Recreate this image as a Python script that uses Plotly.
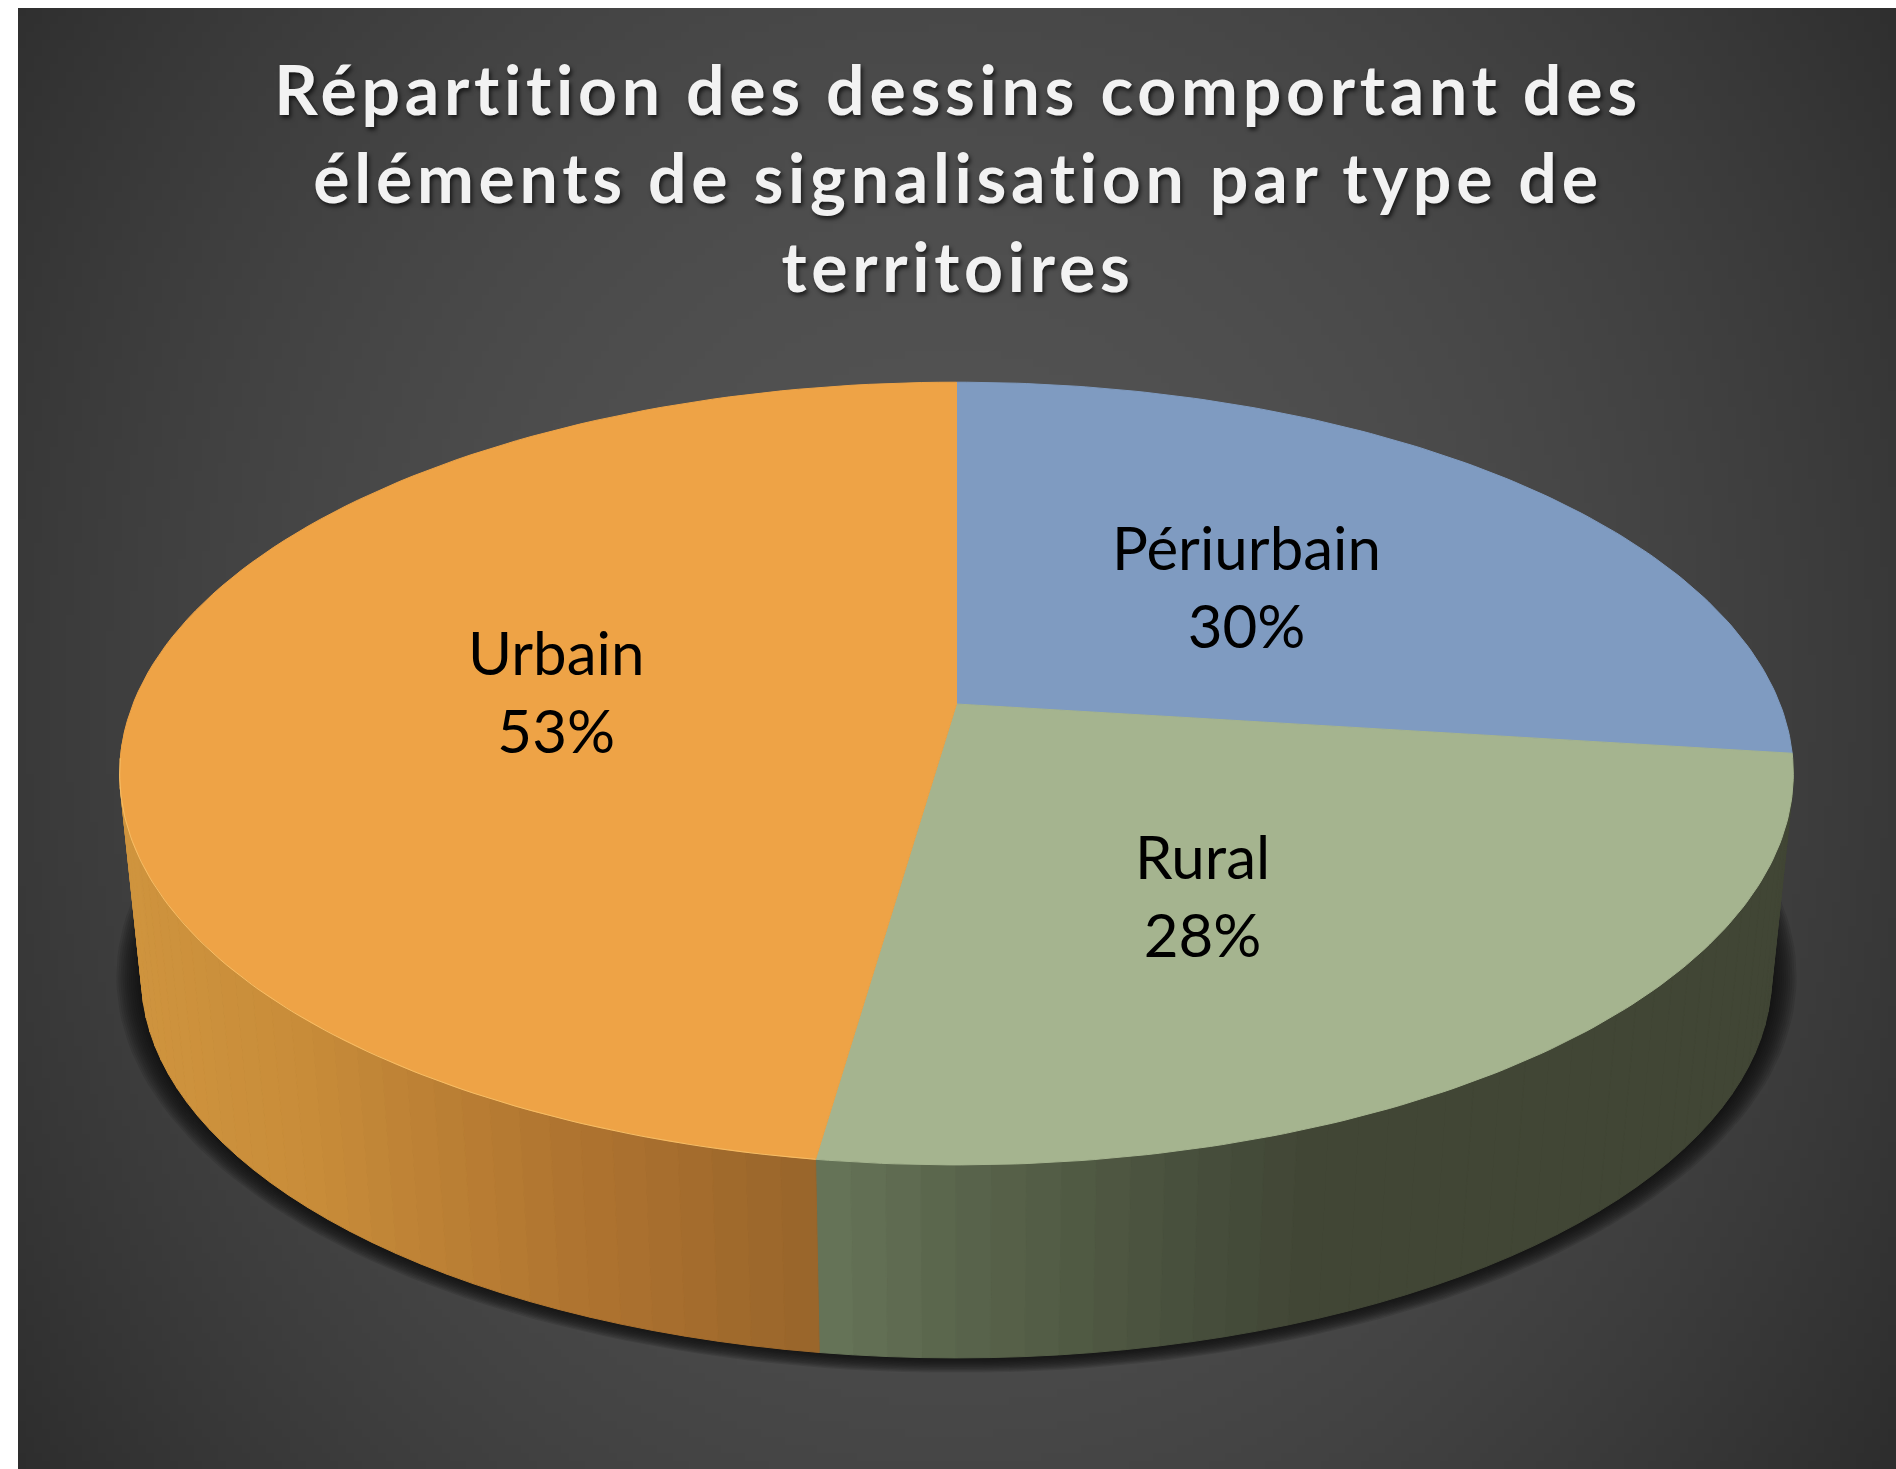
import numpy as np
import plotly.graph_objects as go

# ---- data ----
categories = ["Périurbain", "Rural", "Urbain"]
values = [30, 28, 53]
title_lines = ["Répartition des dessins comportant des",
               "éléments de signalisation par type de",
               "territoires"]

# ---- styles ----
top_colors = ["#7F9BC1", "#A5B48F", "#EEA346"]
wall_stops = {
    "Périurbain": ([0, 1896], ["#414635", "#414635"]),
    "Rural": ([818, 960, 1100, 1200, 1320, 1896],
              ["#677559", "#5A654C", "#4F5842", "#474E3C", "#414635", "#414635"]),
    "Urbain": ([115, 300, 590, 818],
               ["#D0953F", "#C98D3A", "#AE7330", "#99652B"]),
}
W, H = 1896, 1469
CX, CY, RX, RY, PERSP = 956.5, 704.0, 823.5, 379.0, 0.1777
WALL_DY, WALL_S = 205.0, 0.974
label_radius = [0.497, 0.538, 0.49]
label_nudge = [0.0, 6.6, 0.0]


def project(theta_deg, radius=1.0, depth=0.0):
    """Disc plane to page: clockwise degrees from the top, with perspective."""
    t = np.radians(np.asarray(theta_deg, dtype=float))
    X, Y = radius * np.sin(t), radius * np.cos(t)
    d = 1 + PERSP * Y
    s = 1 + (WALL_S - 1) * depth
    return CX + s * RX * X / d, CY + depth * WALL_DY - s * RY * Y / d


def hex2rgb(c):
    return np.array([int(c[i:i + 2], 16) for i in (1, 3, 5)], dtype=float)


def wall_color(name, x):
    xs, cs = wall_stops[name]
    rgb = np.array([hex2rgb(c) for c in cs])
    return "rgb(%d,%d,%d)" % tuple(np.interp(x, xs, rgb[:, i]) for i in range(3))


fracs = np.array(values, dtype=float) / sum(values)
edges = np.concatenate([[0], np.cumsum(fracs)]) * 360

fig = go.Figure()

# background: radial gradient (the panel starts a little inside the page)
ex = np.linspace(18, W, 236)
ey = np.linspace(8, H, 184)
gx, gy = (ex[:-1] + ex[1:]) / 2, (ey[:-1] + ey[1:]) / 2
xx, yy = np.meshgrid(gx, gy)
dist = np.sqrt(((xx - 950) / 950) ** 2 + ((yy - 700) / 1100) ** 2)
z = np.round(84 - 28 * dist ** 1.8, 1)
fig.add_trace(go.Heatmap(x=ex, y=ey, z=z, zmin=0, zmax=255,
                         colorscale=[[0, "#000000"], [1, "#ffffff"]],
                         showscale=False, hoverinfo="skip"))

ring = np.linspace(0, 360, 241)

# soft shadow beneath the pie
for grow in np.linspace(25, 2, 12):
    sx, sy = project(ring, depth=1.0)
    fx = CX + (sx - CX) * (1 + grow / 815)
    cy2 = CY + WALL_DY + 68
    fy = cy2 + (sy - cy2) * (1 + grow * 0.6 / 385)
    fig.add_trace(go.Scatter(x=fx, y=fy, mode="lines", fill="toself",
                             fillcolor="rgba(14,14,14,0.13)", line=dict(width=0),
                             hoverinfo="skip", showlegend=False))

# side wall, as thin shaded strips
for i, name in enumerate(categories):
    lo, hi = max(edges[i], 94.0), min(edges[i + 1], 266.0)
    if hi <= lo:
        continue
    angles = np.linspace(lo, hi, max(2, int((hi - lo) / 2) + 1))
    for a0, a1 in zip(angles[:-1], angles[1:]):
        pair = [a0, a1]
        xt, yt = project(pair)
        xb, yb = project(pair, depth=1.0)
        col = wall_color(name, float((xt.mean() + xb.mean()) / 2))
        fig.add_trace(go.Scatter(
            x=[xt[0], xt[1], xb[1], xb[0], xt[0]],
            y=[yt[0], yt[1], yb[1], yb[0], yt[0]],
            mode="lines", fill="toself", fillcolor=col,
            line=dict(color=col, width=1), hoverinfo="skip", showlegend=False))

# top faces of the wedges
for i, name in enumerate(categories):
    arc = np.linspace(edges[i], edges[i + 1], 120)
    xa, ya = project(arc)
    xs = np.concatenate([[CX], xa, [CX]])
    ys = np.concatenate([[CY], ya, [CY]])
    fig.add_trace(go.Scatter(x=xs, y=ys, mode="lines", fill="toself",
                             fillcolor=top_colors[i],
                             line=dict(color=top_colors[i], width=1),
                             name=name, hoverinfo="name", showlegend=False))

# pale rim along the front of the orange wedge
rim = np.linspace(edges[2], 262, 100)
xr, yr = project(rim)
fig.add_trace(go.Scatter(x=xr, y=yr, mode="lines",
                         line=dict(color="rgba(255,214,130,0.55)", width=1),
                         hoverinfo="skip", showlegend=False))

# labels
annotations = []
for i, name in enumerate(categories):
    mid = (edges[i] + edges[i + 1]) / 2 + label_nudge[i]
    lx, ly = project(mid, radius=label_radius[i])
    annotations.append(dict(x=float(lx), y=float(ly), xref="x", yref="y",
                            text=f"{name}<br>{values[i]}%", showarrow=False,
                            font=dict(family="Lato", size=60, color="#000000"),
                            align="center", xanchor="center", yanchor="middle"))

fig.update_layout(
    width=W, height=H, margin=dict(l=0, r=0, t=0, b=0),
    paper_bgcolor="#ffffff", plot_bgcolor="rgba(0,0,0,0)", showlegend=False,
    xaxis=dict(range=[0, W], visible=False, fixedrange=True),
    yaxis=dict(range=[H, 0], visible=False, fixedrange=True),
    annotations=annotations,
    title=dict(text="<br>".join(title_lines), x=958 / W, xanchor="center",
               xref="paper", y=1 - 115 / H, yref="container", yanchor="top",
               font=dict(family="Lato", size=68, weight=700, color="#F2F2F2",
                         shadow="2px 3px 4px rgba(0,0,0,0.65)")),
)

fig.write_html("out.html", config={"displayModeBar": False}, post_script="""
document.body.style.margin='0';document.body.style.overflow='hidden';
document.querySelectorAll('.gtitle').forEach(e=>{e.style.letterSpacing='4.7px';});
""")
